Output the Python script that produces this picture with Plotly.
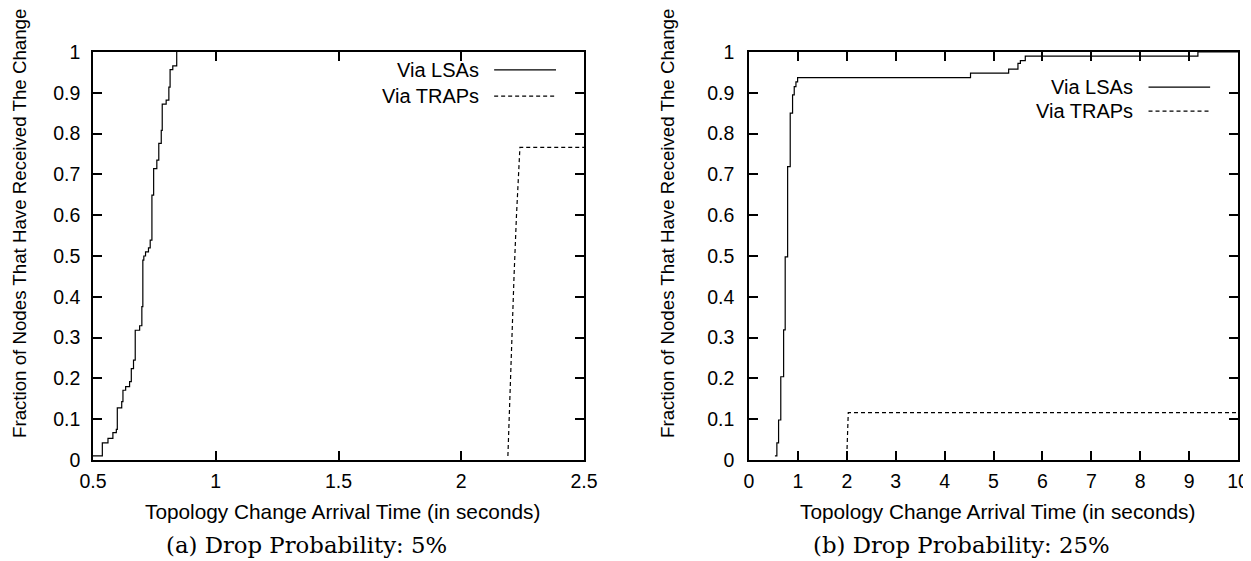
import plotly.graph_objects as go

# ---- data ----
# (a) drop probability 5%
a_lsa_x = [0.5, 0.538, 0.561, 0.581, 0.595, 0.599, 0.617, 0.622, 0.633, 0.649, 0.656, 0.665,
           0.672, 0.690, 0.699, 0.703, 0.707, 0.714, 0.726, 0.733, 0.740, 0.747, 0.760, 0.768,
           0.778, 0.782, 0.798, 0.809, 0.814, 0.825, 0.841]
a_lsa_y = [0.01, 0.042, 0.053, 0.067, 0.075, 0.128, 0.143, 0.171, 0.18, 0.192, 0.224, 0.245,
           0.318, 0.329, 0.376, 0.49, 0.5, 0.51, 0.52, 0.539, 0.649, 0.714, 0.735, 0.776,
           0.808, 0.872, 0.882, 0.914, 0.957, 0.966, 1.0]
a_trap_x = [2.19, 2.20, 2.215, 2.225, 2.239, 2.5]
a_trap_y = [0.01, 0.2, 0.45, 0.6, 0.766, 0.766]

# (b) drop probability 25%
b_lsa_x = [0.53, 0.57, 0.605, 0.65, 0.708, 0.74, 0.79, 0.843, 0.891, 0.925, 0.96, 0.994,
           4.53, 5.31, 5.50, 5.55, 5.65, 9.18, 10.0]
b_lsa_y = [0.01, 0.042, 0.098, 0.204, 0.319, 0.498, 0.719, 0.85, 0.895, 0.915, 0.927, 0.937,
           0.948, 0.958, 0.972, 0.979, 0.99, 1.0, 1.0]
b_trap_x = [2.0, 2.03, 10.0]
b_trap_y = [0.01, 0.116, 0.116]

a_xticks = [0.5, 1, 1.5, 2, 2.5]
a_xlabels = ["0.5", "1", "1.5", "2", "2.5"]
b_xticks = list(range(0, 11))
b_xlabels = [str(v) for v in b_xticks]
yticks = [i / 10 for i in range(11)]
ylabels = ["0"] + ["0.%d" % i for i in range(1, 10)] + ["1"]

series_names = ["Via LSAs", "Via TRAPs"]
x_title = "Topology Change Arrival Time (in seconds)"
y_title = "Fraction of Nodes That Have Received The Change"
captions = ["(a) Drop Probability: 5%", "(b) Drop Probability: 25%"]

# ---- style ----
OFF = 8                      # default page body margin
W, H = 1251 - OFF, 561 - OFF
FONT = "Liberation Sans, Arial, sans-serif"
FS = 19.5
LW = 1.2
DASH = "4px,3px"


def px_x(p):
    return (p - OFF) / W


def px_y(p):
    return 1 - (p - OFF) / H


fig = go.Figure()
fig.add_trace(go.Scatter(x=a_lsa_x, y=a_lsa_y, mode="lines", line=dict(color="black", width=LW, shape="hv"),
                         xaxis="x", yaxis="y", showlegend=False))
fig.add_trace(go.Scatter(x=a_trap_x, y=a_trap_y, mode="lines", line=dict(color="black", width=LW, dash=DASH),
                         xaxis="x", yaxis="y", showlegend=False))
fig.add_trace(go.Scatter(x=b_lsa_x, y=b_lsa_y, mode="lines", line=dict(color="black", width=LW, shape="hv"),
                         xaxis="x2", yaxis="y2", showlegend=False))
fig.add_trace(go.Scatter(x=b_trap_x, y=b_trap_y, mode="lines", line=dict(color="black", width=LW, dash=DASH),
                         xaxis="x2", yaxis="y2", showlegend=False))

ax_common = dict(showline=True, linecolor="black", linewidth=1.5, mirror="ticks", ticks="inside",
                 ticklen=9, tickwidth=1.5, tickcolor="black", showgrid=False, zeroline=False,
                 automargin=False, fixedrange=True,
                 tickfont=dict(family=FONT, size=FS, color="black"))

ytop, ybot = 52, 460
ydom = [px_y(ybot), px_y(ytop)]
ax_a = (93, 584)
ax_b = (749, 1238)

fig.update_layout(
    template="none",
    width=W, height=H, margin=dict(l=0, r=0, t=0, b=0, pad=0),
    paper_bgcolor="white", plot_bgcolor="white", showlegend=False,
    xaxis=dict(domain=[px_x(ax_a[0]), px_x(ax_a[1])], range=[0.5, 2.5], tickvals=a_xticks, ticktext=a_xlabels,
               anchor="y", ticklabelstandoff=3, **ax_common),
    yaxis=dict(domain=ydom, range=[0, 1], tickvals=yticks, ticktext=ylabels, anchor="x",
               ticklabelstandoff=7, **ax_common),
    xaxis2=dict(domain=[px_x(ax_b[0]), px_x(ax_b[1])], range=[0, 10], tickvals=b_xticks, ticktext=b_xlabels,
                anchor="y2", ticklabelstandoff=3, **ax_common),
    yaxis2=dict(domain=ydom, range=[0, 1], tickvals=yticks, ticktext=ylabels, anchor="x2",
                ticklabelstandoff=9, **ax_common),
)

# legends (text left of sample, gnuplot style)
legend_pos = {"": [0.956, 0.892], "2": [0.914, 0.855]}
for suffix, ys in legend_pos.items():
    for name, yv, dash in zip(series_names, ys, ["solid", DASH]):
        fig.add_annotation(x=0.79, y=yv, xref="x%s domain" % suffix, yref="y%s domain" % suffix,
                           text=name, showarrow=False, xanchor="right", yanchor="middle",
                           font=dict(family=FONT, size=FS + 0.5, color="black"))
        fig.add_shape(type="line", x0=0.817, x1=0.943, y0=yv, y1=yv,
                      xref="x%s domain" % suffix, yref="y%s domain" % suffix,
                      line=dict(color="black", width=LW, dash=dash))

# axis titles and captions
for (x0, x1), ytx, cap in zip([ax_a, ax_b], [19, 667], captions):
    cx = (x0 + x1) / 2
    fig.add_annotation(x=px_x(cx + 4), y=px_y(511), xref="paper", yref="paper", text=x_title,
                       showarrow=False, xanchor="center", yanchor="middle",
                       font=dict(family=FONT, size=20.8, color="black"))
    fig.add_annotation(x=px_x(ytx), y=px_y(224), xref="paper", yref="paper", text=y_title,
                       textangle=-90, showarrow=False, xanchor="center", yanchor="middle",
                       font=dict(family=FONT, size=18.7, color="black"))
    fig.add_annotation(x=px_x(cx - 32), y=px_y(545), xref="paper", yref="paper", text=cap,
                       showarrow=False, xanchor="center", yanchor="middle",
                       font=dict(family="DejaVu Serif, serif", size=22.8, color="black"))

fig.write_html("out.html")
